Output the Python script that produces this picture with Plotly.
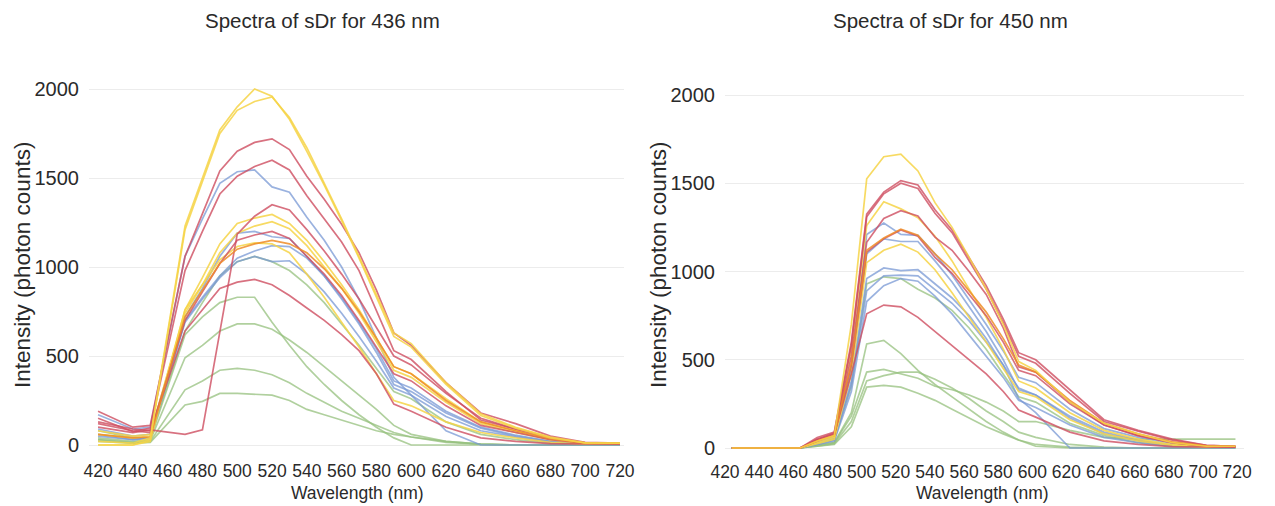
import plotly.graph_objects as go

# ---------------- data ----------------
left_wavelength = [420, 440, 450, 470, 480, 490, 500, 510, 520, 530, 540, 550,
                   560, 570, 580, 590, 600, 620, 640, 660, 680, 700, 720]

left_Y1 = [20, 10, 40, 1230, 1500, 1770, 1900, 2000, 1960, 1830, 1650, 1460, 1260, 1050, 830, 610, 550, 340, 165, 95, 40, 12, 10]
left_Y2 = [0, 0, 30, 1210, 1480, 1750, 1880, 1930, 1955, 1840, 1670, 1470, 1270, 1060, 840, 630, 570, 350, 175, 100, 45, 12, 10]
left_R1 = [190, 100, 110, 1060, 1300, 1540, 1650, 1700, 1720, 1660, 1510, 1380, 1240, 1080, 870, 630, 560, 350, 180, 120, 50, 15, 10]
left_R2 = [150, 75, 95, 980, 1200, 1410, 1510, 1565, 1600, 1545, 1400, 1270, 1140, 980, 760, 530, 480, 300, 140, 90, 40, 12, 10]
left_B1 = [170, 90, 100, 1060, 1270, 1470, 1535, 1545, 1450, 1420, 1280, 1150, 1000, 820, 600, 380, 280, 80, 0, 0, 0, 0, 0]
left_Y3 = [60, 40, 50, 760, 940, 1130, 1245, 1275, 1295, 1245, 1150, 1030, 900, 760, 600, 440, 400, 260, 130, 80, 30, 10, 10]
left_Y4 = [80, 50, 60, 740, 900, 1080, 1190, 1230, 1255, 1215, 1120, 1000, 880, 740, 580, 420, 380, 240, 120, 70, 30, 10, 10]
left_R3 = [100, 70, 85, 60, 85, 635, 1185, 1285, 1350, 1320, 1210, 1090, 960, 820, 660, 500, 450, 290, 150, 90, 40, 12, 10]
left_R4 = [120, 80, 70, 700, 860, 1020, 1150, 1180, 1200, 1160, 1060, 960, 840, 700, 550, 400, 360, 220, 110, 70, 30, 10, 10]
left_B2 = [90, 50, 60, 720, 880, 1060, 1190, 1200, 1170, 1160, 1060, 950, 820, 680, 520, 340, 300, 180, 95, 50, 20, 8, 5]
left_Y5 = [0, 0, 20, 760, 900, 1040, 1115, 1135, 1130, 1080, 960, 830, 690, 550, 400, 250, 220, 130, 70, 40, 15, 5, 5]
left_O1 = [60, 40, 45, 720, 870, 1020, 1100, 1130, 1150, 1130, 1080, 990, 880, 750, 600, 440, 400, 250, 130, 80, 35, 10, 10]
left_B3 = [60, 30, 40, 700, 830, 950, 1050, 1090, 1120, 1115, 1050, 950, 830, 690, 540, 360, 320, 190, 100, 55, 20, 8, 5]
left_B4 = [50, 30, 40, 690, 820, 940, 1030, 1060, 1030, 1035, 960, 860, 740, 610, 470, 320, 280, 160, 80, 45, 15, 5, 5]
left_G1 = [80, 40, 40, 640, 800, 950, 1030, 1060, 1030, 980, 900, 800, 680, 560, 430, 300, 260, 130, 60, 30, 10, 5, 5]
left_R5 = [130, 90, 80, 640, 760, 880, 915, 930, 900, 840, 770, 700, 620, 530, 400, 230, 190, 100, 40, 20, 8, 5, 5]
left_G2 = [40, 20, 30, 620, 720, 800, 830, 830, 690, 560, 440, 340, 250, 170, 100, 40, 0, 0, 0, 0, 0, 0, 0]
left_G3 = [30, 15, 25, 490, 560, 640, 680, 680, 650, 590, 520, 440, 360, 280, 200, 110, 60, 20, 5, 0, 0, 0, 0]
left_G4 = [30, 10, 20, 310, 360, 420, 430, 420, 395, 350, 290, 240, 190, 150, 110, 70, 45, 15, 5, 0, 0, 0, 0]
left_G5 = [20, 10, 15, 225, 245, 290, 290, 285, 280, 250, 200, 170, 140, 110, 80, 60, 45, 20, 5, 0, 0, 0, 0]

right_wavelength = [424, 464, 474, 484, 494, 503, 513, 523, 533, 543, 553, 563,
                    573, 583, 592, 602, 622, 642, 662, 682, 702, 719]

right_Y1 = [0, 0, 40, 70, 700, 1525, 1650, 1665, 1570, 1390, 1250, 1080, 900, 700, 490, 440, 260, 140, 80, 30, 10, 10]
right_R1 = [0, 0, 60, 90, 600, 1325, 1450, 1515, 1490, 1350, 1235, 1080, 920, 730, 540, 500, 330, 160, 100, 50, 15, 10]
right_R2 = [0, 0, 50, 85, 580, 1310, 1440, 1500, 1470, 1330, 1220, 1060, 900, 710, 520, 480, 310, 150, 95, 45, 15, 10]
right_Y2 = [0, 0, 30, 60, 560, 1260, 1395, 1355, 1305, 1200, 1060, 900, 740, 560, 380, 340, 200, 100, 50, 20, 8, 5]
right_R3 = [0, 0, 40, 75, 520, 1165, 1300, 1345, 1315, 1195, 1120, 1000, 870, 680, 460, 430, 260, 130, 70, 30, 10, 8]
right_B1 = [0, 0, 30, 60, 450, 1210, 1275, 1210, 1205, 1100, 980, 840, 700, 550, 400, 370, 220, 110, 60, 25, 8, 5]
right_O1 = [0, 0, 40, 70, 480, 1120, 1190, 1240, 1205, 1100, 1010, 890, 770, 620, 470, 430, 270, 140, 80, 35, 12, 10]
right_R4 = [0, 0, 45, 75, 470, 1110, 1185, 1235, 1200, 1080, 990, 870, 750, 600, 440, 410, 250, 130, 70, 30, 10, 8]
right_B2 = [0, 0, 30, 55, 430, 1100, 1185, 1170, 1170, 1060, 940, 800, 660, 500, 330, 300, 170, 80, 40, 15, 5, 5]
right_Y3 = [0, 0, 25, 50, 420, 1050, 1120, 1155, 1110, 1010, 880, 740, 600, 450, 320, 290, 160, 80, 40, 15, 5, 5]
right_B3 = [0, 0, 25, 50, 380, 960, 1020, 1005, 1010, 930, 850, 750, 620, 470, 280, 200, 0, 0, 0, 0, 0, 0]
right_B4 = [0, 0, 20, 45, 360, 890, 975, 980, 975, 900, 820, 720, 600, 470, 340, 300, 180, 90, 45, 15, 5, 5]
right_G1 = [0, 0, 25, 50, 350, 930, 970, 960, 900, 850, 780, 680, 560, 420, 290, 260, 140, 70, 30, 10, 5, 5]
right_B5 = [0, 0, 20, 40, 320, 830, 920, 960, 945, 860, 760, 640, 520, 400, 270, 230, 130, 60, 30, 10, 5, 5]
right_R5 = [0, 0, 50, 80, 420, 760, 810, 800, 740, 660, 580, 500, 420, 320, 215, 175, 90, 40, 20, 8, 5, 5]
right_G2 = [0, 0, 15, 30, 200, 590, 610, 535, 440, 360, 290, 220, 150, 90, 45, 10, 0, 0, 0, 0, 0, 0]
right_G3 = [0, 0, 15, 30, 180, 430, 445, 420, 395, 350, 330, 300, 260, 210, 150, 150, 100, 60, 50, 50, 50, 50]
right_G4 = [0, 0, 10, 25, 150, 380, 410, 430, 430, 390, 340, 280, 210, 150, 90, 60, 20, 5, 0, 0, 0, 0]
right_G5 = [0, 0, 10, 20, 120, 345, 355, 345, 310, 270, 220, 170, 120, 80, 45, 20, 5, 0, 0, 0, 0, 0]

x_tick_labels = [420, 440, 460, 480, 500, 520, 540, 560, 580, 600, 620, 640, 660, 680, 700, 720]
y_tick_labels = [0, 500, 1000, 1500, 2000]

left_title = "Spectra of sDr for 436 nm"
right_title = "Spectra of sDr for 450 nm"
x_title = "Wavelength (nm)"
y_title = "Intensity (photon counts)"

# ---------------- styles ----------------
COL = {
    "Y": "rgba(246, 212, 70, 0.85)",
    "R": "rgba(206, 78, 96, 0.8)",
    "B": "rgba(120, 152, 212, 0.75)",
    "G": "rgba(150, 192, 125, 0.75)",
    "O": "rgba(238, 140, 40, 0.85)",
}

left_series = [
    ("G5", left_G5), ("G4", left_G4), ("G3", left_G3), ("G2", left_G2), ("G1", left_G1),
    ("B4", left_B4), ("B3", left_B3), ("B2", left_B2), ("B1", left_B1),
    ("Y5", left_Y5), ("Y4", left_Y4), ("Y3", left_Y3),
    ("R5", left_R5), ("R4", left_R4), ("R3", left_R3), ("R2", left_R2), ("R1", left_R1),
    ("O1", left_O1), ("Y2", left_Y2), ("Y1", left_Y1),
]
right_series = [
    ("G5", right_G5), ("G4", right_G4), ("G3", right_G3), ("G2", right_G2), ("G1", right_G1),
    ("B5", right_B5), ("B4", right_B4), ("B3", right_B3), ("B2", right_B2), ("B1", right_B1),
    ("Y3", right_Y3), ("Y2", right_Y2),
    ("R5", right_R5), ("R4", right_R4), ("R3", right_R3), ("R2", right_R2), ("R1", right_R1),
    ("O1", right_O1), ("Y1", right_Y1),
]

# page has an 8px body margin: figure is sized so the page fills the window
OFF = 8
W, H = 1275 - OFF, 506 - OFF
FONT = "Liberation Sans, Arial, Helvetica, sans-serif"
TXT = "#2a2a2a"

fig = go.Figure()
for name, vals in left_series:
    fig.add_trace(go.Scatter(x=left_wavelength, y=vals, mode="lines", name=name,
                             line=dict(color=COL[name[0]], width=1.7),
                             xaxis="x", yaxis="y", showlegend=False))
for name, vals in right_series:
    fig.add_trace(go.Scatter(x=right_wavelength, y=vals, mode="lines", name=name,
                             line=dict(color=COL[name[0]], width=1.7),
                             xaxis="x2", yaxis="y2", showlegend=False))


def px_x(p):
    return (p - OFF) / W


def px_y(p):
    return (H - (p - OFF)) / H


# left plot geometry (window pixels)
L_left, L_right, L_top = 89, 624, 70
L_zero, L_2000 = 445, 89
L_scale = (L_zero - L_2000) / 2000.0
# right plot geometry
R_left, R_right, R_top = 725, 1244, 70
R_zero, R_2000 = 448, 95
R_scale = (R_zero - R_2000) / 2000.0
PAD = 12

XTICK = dict(family=FONT, size=17.5, color=TXT)
YTICK = dict(family=FONT, size=20, color=TXT)
base = dict(showline=False, zeroline=False, ticks="outside",
            tickcolor="rgba(0,0,0,0)", automargin=False)

fig.update_layout(
    width=W, height=H,
    margin=dict(l=0, r=0, t=0, b=0, pad=0, autoexpand=False),
    paper_bgcolor="white", plot_bgcolor="white",
    xaxis=dict(domain=[px_x(L_left), px_x(L_right)],
               range=[414.8, 722.3], tickvals=x_tick_labels, showgrid=False,
               ticklen=8, anchor="y", tickfont=XTICK, **base),
    yaxis=dict(domain=[px_y(L_zero + PAD * L_scale), px_y(L_top)],
               range=[-PAD, (L_zero - L_top) / L_scale], tickvals=y_tick_labels,
               showgrid=True, gridcolor="#ececec", gridwidth=1, ticklen=5,
               anchor="x", tickfont=YTICK, **base),
    xaxis2=dict(domain=[px_x(R_left), px_x(R_right)],
                range=[420, 724], tickvals=x_tick_labels, showgrid=False,
                ticklen=6, anchor="y2", tickfont=XTICK, **base),
    yaxis2=dict(domain=[px_y(R_zero + PAD * R_scale), px_y(R_top)],
                range=[-PAD, (R_zero - R_top) / R_scale], tickvals=y_tick_labels,
                showgrid=True, gridcolor="#ececec", gridwidth=1, ticklen=5,
                anchor="x2", tickfont=YTICK, **base),
)

ann = [
    dict(text=left_title, x=px_x(322), y=px_y(21), size=20.5, angle=0),
    dict(text=right_title, x=px_x(950), y=px_y(21), size=20.5, angle=0),
    dict(text=x_title, x=px_x(357), y=px_y(493), size=17.5, angle=0),
    dict(text=x_title, x=px_x(982), y=px_y(493), size=17.5, angle=0),
    dict(text=y_title, x=px_x(22), y=px_y(265), size=22.5, angle=-90),
    dict(text=y_title, x=px_x(658), y=px_y(265), size=22.5, angle=-90),
]
for a in ann:
    fig.add_annotation(text=a["text"], x=a["x"], y=a["y"], xref="paper", yref="paper",
                       xanchor="center", yanchor="middle", showarrow=False,
                       textangle=a["angle"],
                       font=dict(family=FONT, size=a["size"], color=TXT))

fig.write_html("out.html")
